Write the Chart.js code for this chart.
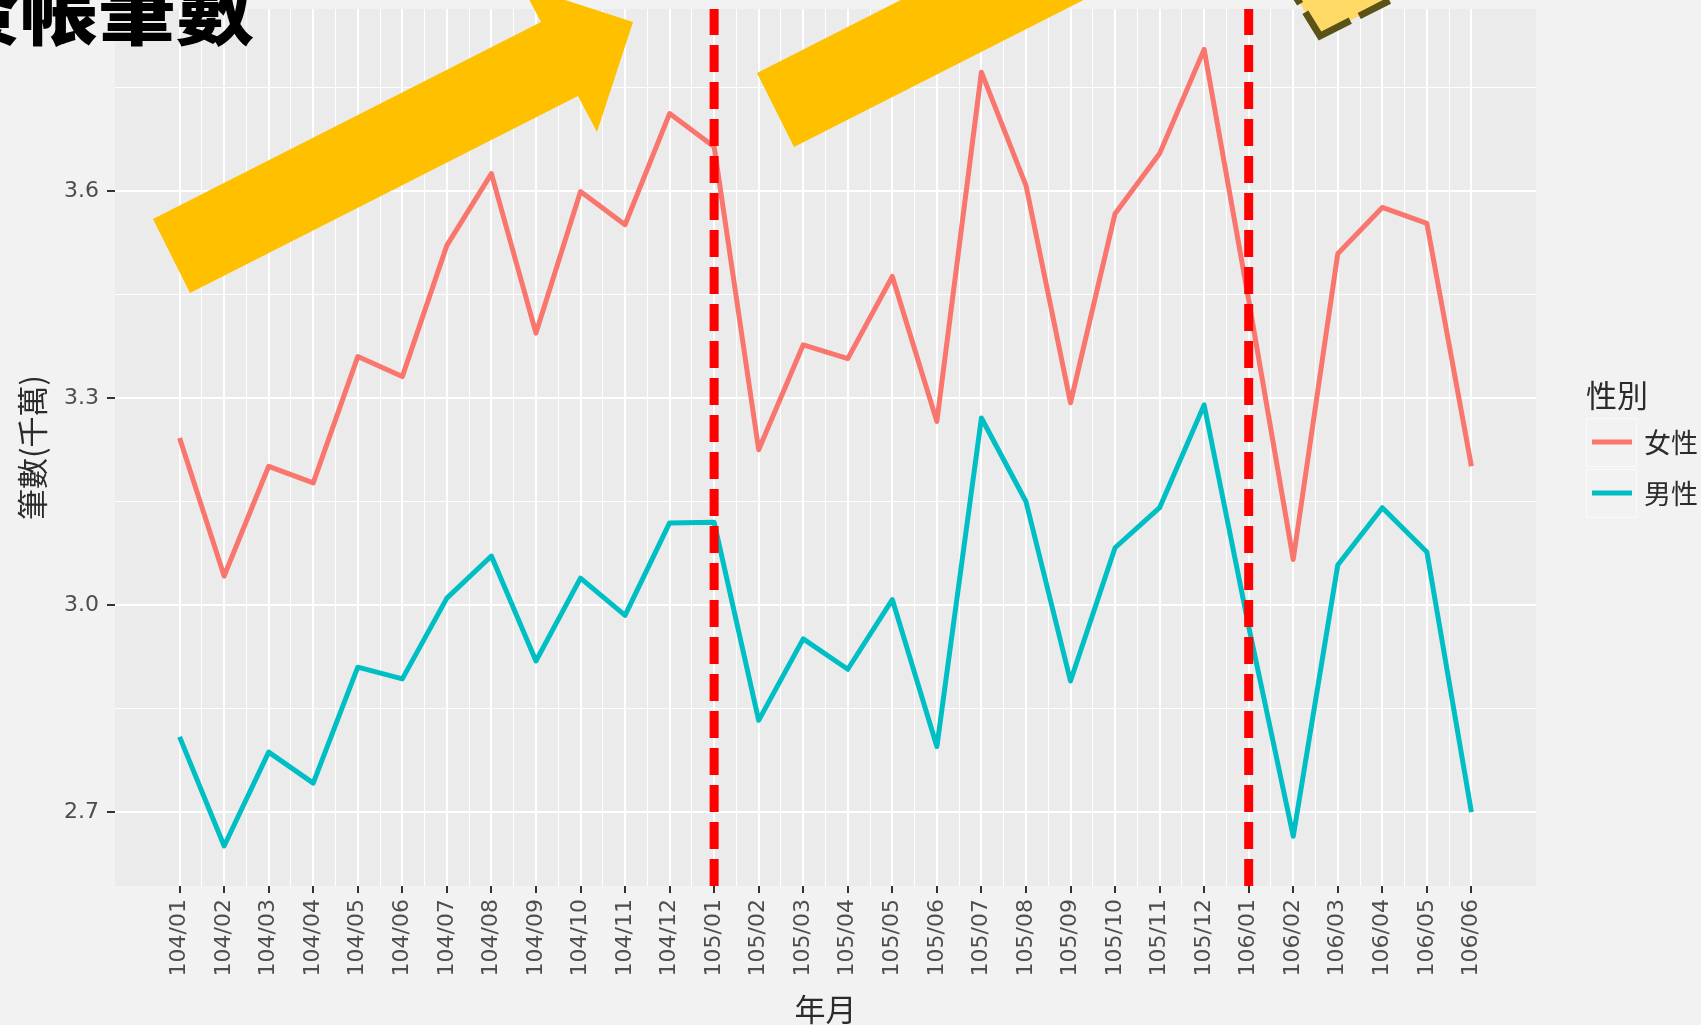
<!DOCTYPE html>
<html>
<head>
<meta charset="utf-8">
<script src="https://cdn.jsdelivr.net/npm/chart.js@4.4.0/dist/chart.umd.min.js"></script>
<style>
  html, body { margin: 0; padding: 0; background: #f2f2f2; }
</style>
</head>
<body>
<canvas id="chart" width="1701" height="1025"></canvas>
<script>
// data (千萬 筆)
const months = ['104/01', '104/02', '104/03', '104/04', '104/05', '104/06', '104/07', '104/08', '104/09', '104/10',
  '104/11', '104/12', '105/01', '105/02', '105/03', '105/04', '105/05', '105/06', '105/07', '105/08',
  '105/09', '105/10', '105/11', '105/12', '106/01', '106/02', '106/03', '106/04', '106/05', '106/06']
const female = [3.242, 3.042, 3.201, 3.177, 3.360, 3.331, 3.521, 3.625, 3.394, 3.599,
  3.551, 3.712, 3.664, 3.225, 3.377, 3.357, 3.476, 3.266, 3.772, 3.608,
  3.293, 3.567, 3.654, 3.805, 3.442, 3.066, 3.509, 3.576, 3.553, 3.201]
const male = [2.809, 2.651, 2.787, 2.742, 2.910, 2.893, 3.010, 3.071, 2.919, 3.039,
  2.985, 3.119, 3.120, 2.833, 2.951, 2.907, 3.008, 2.795, 3.271, 3.150,
  2.890, 3.083, 3.141, 3.290, 2.969, 2.665, 3.058, 3.141, 3.077, 2.700]
const seriesNames = ['女性', '男性']
const seriesColors = ['#F8766D', '#00BFC4']
const breakMonths = ['105/01', '106/01']
const yMajor = [2.7, 3.0, 3.3, 3.6]
const yMinor = [2.85, 3.15, 3.45, 3.75]
const yMin = 2.593
const yMax = 3.8635
const xPad = 1.45

const isMajorY = v => yMajor.some(m => Math.abs(m - v) < 1e-9)

const decor = {
  id: 'decor',
  beforeDraw (chart) {
    const { ctx, chartArea: a } = chart
    ctx.save()
    ctx.fillStyle = '#f2f2f2'
    ctx.fillRect(0, 0, chart.width, chart.height)
    ctx.fillStyle = '#ebebeb'
    ctx.fillRect(a.left, a.top, a.right - a.left, a.bottom - a.top)
    ctx.restore()
  },
  afterDraw (chart) {
    const ctx = chart.ctx
    ctx.save()

    // legend
    ctx.fillStyle = '#2b2b2b'
    ctx.textBaseline = 'middle'
    ctx.textAlign = 'left'
    ctx.font = '31px "Noto Sans CJK TC"'
    ctx.fillText('性別', 1586, 395)
    seriesNames.forEach((name, i) => {
      const y0 = 418 + i * 51
      ctx.fillStyle = '#f2f2f2'
      ctx.fillRect(1586, y0, 50, 48)
      ctx.strokeStyle = '#fafafa'
      ctx.lineWidth = 1
      ctx.strokeRect(1586.5, y0 + 0.5, 50, 48)
      ctx.strokeStyle = seriesColors[i]
      ctx.lineWidth = 5
      ctx.beginPath()
      ctx.moveTo(1592, y0 + 24)
      ctx.lineTo(1632, y0 + 24)
      ctx.stroke()
      ctx.fillStyle = '#2b2b2b'
      ctx.font = '27px "Noto Sans CJK TC"'
      ctx.fillText(name, 1644, y0 + 25)
    })

    // slide overlays: yellow arrows
    const arrow = [[153, 219], [190, 293], [578, 96], [597, 132], [633, 22], [522, -14], [541, 22]]
    const poly = (pts, dx, dy) => {
      ctx.beginPath()
      pts.forEach(([x, y], i) => i ? ctx.lineTo(x + dx, y + dy) : ctx.moveTo(x + dx, y + dy))
      ctx.closePath()
    }
    ctx.fillStyle = '#FFC000'
    poly(arrow, 0, 0)
    ctx.fill()
    poly(arrow, 604, -146)
    ctx.fill()

    // small dashed box cut at the top
    poly([[1320, 36], [1418, -14], [1376, -82], [1278, -32]], 0, 0)
    ctx.fillStyle = '#FFD966'
    ctx.fill()
    ctx.setLineDash([34, 10])
    ctx.lineWidth = 7
    ctx.strokeStyle = '#5B5217'
    ctx.stroke()
    ctx.setLineDash([])

    // big title, cut off at the top-left
    ctx.fillStyle = '#000'
    ctx.font = '900 78px "Noto Sans CJK TC"'
    ctx.textAlign = 'right'
    ctx.textBaseline = 'alphabetic'
    ctx.fillText('簽帳筆數', 254, 39)
    ctx.restore()
  }
}

const tickFont = { family: '"DejaVu Sans"', size: 22 }
const titleFont = { family: '"Noto Sans CJK TC"', size: 31 }

const datasets = [
  ...breakMonths.map(m => ({
    label: m,
    data: [{ x: months.indexOf(m), y: yMin }, { x: months.indexOf(m), y: yMax }],
    borderColor: '#FF0000',
    borderWidth: 9,
    borderDash: [27, 10],
    borderCapStyle: 'butt',
    pointRadius: 0,
    order: 0
  })),
  ...[female, male].map((vals, s) => ({
    label: seriesNames[s],
    data: vals.map((v, i) => ({ x: i, y: v })),
    borderColor: seriesColors[s],
    borderWidth: 5,
    borderJoinStyle: 'round',
    pointRadius: 0,
    order: 1
  }))
]

new Chart(document.getElementById('chart'), {
  type: 'line',
  data: { datasets },
  plugins: [decor],
  options: {
    responsive: false,
    animation: false,
    events: [],
    layout: { padding: { left: 0, right: 165, top: 9, bottom: 0 } },
    plugins: { legend: { display: false }, tooltip: { enabled: false } },
    scales: {
      x: {
        type: 'linear',
        min: -xPad,
        max: months.length - 1 + xPad,
        afterBuildTicks: axis => {
          const t = []
          months.forEach((m, i) => {
            t.push({ value: i })
            if (i < months.length - 1) t.push({ value: i + 0.5 })
          })
          axis.ticks = t
        },
        afterFit: axis => {
          axis.height = 139
          axis.paddingLeft = 0
          axis.paddingRight = 0
        },
        ticks: {
          autoSkip: false,
          minRotation: 90,
          maxRotation: 90,
          padding: 6,
          color: '#4d4d4d',
          font: tickFont,
          callback: v => Number.isInteger(v) ? months[v] : ''
        },
        grid: {
          color: '#ffffff',
          lineWidth: c => Number.isInteger(c.tick.value) ? 2 : 1,
          tickColor: c => Number.isInteger(c.tick.value) ? '#333333' : 'rgba(0,0,0,0)',
          tickWidth: 2,
          tickLength: 7
        },
        border: { display: false },
        title: {
          display: true,
          text: '年月',
          color: '#2b2b2b',
          font: { ...titleFont, lineHeight: 1 },
          padding: { top: 0, bottom: 0 }
        }
      },
      y: {
        min: yMin,
        max: yMax,
        afterBuildTicks: axis => {
          axis.ticks = [...yMajor, ...yMinor].sort((a, b) => a - b).map(v => ({ value: v }))
        },
        afterFit: axis => {
          axis.width = 115
          axis.paddingTop = 0
          axis.paddingBottom = 0
        },
        ticks: {
          padding: 8,
          color: '#4d4d4d',
          font: tickFont,
          callback: v => isMajorY(v) ? v.toFixed(1) : ''
        },
        grid: {
          color: '#ffffff',
          lineWidth: c => isMajorY(c.tick.value) ? 2 : 1,
          tickColor: c => isMajorY(c.tick.value) ? '#333333' : 'rgba(0,0,0,0)',
          tickWidth: 2,
          tickLength: 8
        },
        border: { display: false },
        title: {
          display: true,
          text: '筆數(千萬)',
          color: '#2b2b2b',
          font: titleFont,
          padding: { top: 14, bottom: 0 }
        }
      }
    }
  }
})
</script>
</body>
</html>
